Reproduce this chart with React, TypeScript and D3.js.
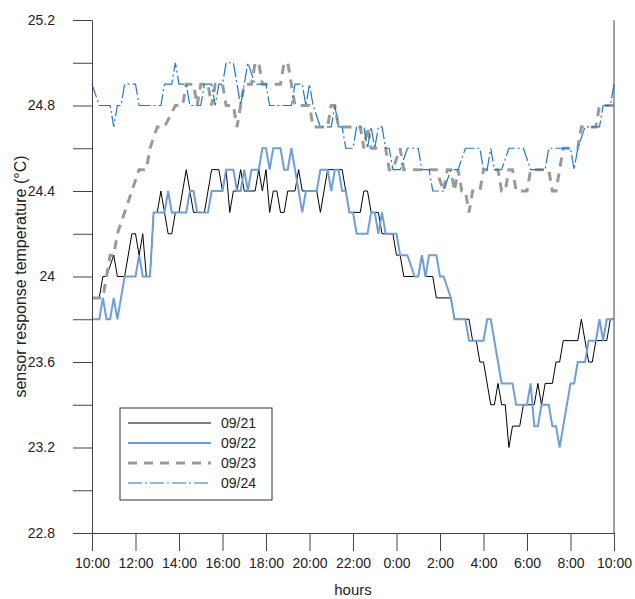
import React, { useRef, useEffect } from 'react';
import * as d3 from 'd3';

// [minutes after 10:00, temperature]
const sep21: [number, number][] = [
  [0, 23.9], [20, 23.9], [30, 24.0], [40, 24.0], [60, 24.1], [70, 24.0], [90, 24.0], [110, 24.2], [120, 24.2],
  [130, 24.1], [140, 24.2], [150, 24.0], [160, 24.0], [170, 24.3], [180, 24.3], [190, 24.4], [200, 24.3],
  [210, 24.2], [220, 24.2], [230, 24.3], [240, 24.3], [260, 24.5], [270, 24.4], [280, 24.3], [310, 24.3],
  [320, 24.4], [330, 24.5], [350, 24.5], [360, 24.4], [370, 24.5], [380, 24.3], [390, 24.4], [400, 24.4],
  [410, 24.5], [420, 24.4], [450, 24.4], [460, 24.5], [470, 24.4], [480, 24.5], [490, 24.3], [500, 24.4],
  [510, 24.4], [520, 24.3], [530, 24.3], [540, 24.4], [560, 24.4], [570, 24.5], [580, 24.4], [620, 24.4],
  [630, 24.3], [640, 24.4], [650, 24.5], [690, 24.5], [700, 24.4], [710, 24.3], [740, 24.3], [750, 24.4],
  [760, 24.4], [770, 24.3], [790, 24.3], [800, 24.2], [830, 24.2], [840, 24.1], [850, 24.1], [860, 24.0],
  [900, 24.0], [910, 24.1], [920, 24.0], [940, 24.0], [950, 23.9], [990, 23.9], [1000, 23.8], [1040, 23.8],
  [1050, 23.7], [1060, 23.7], [1070, 23.6], [1080, 23.6], [1100, 23.4], [1110, 23.4], [1120, 23.5],
  [1130, 23.4], [1140, 23.4], [1150, 23.2], [1160, 23.3], [1180, 23.3], [1190, 23.4], [1220, 23.4],
  [1230, 23.5], [1240, 23.4], [1250, 23.5], [1270, 23.5], [1280, 23.6], [1290, 23.6], [1300, 23.7],
  [1340, 23.7], [1350, 23.8], [1360, 23.7], [1370, 23.6], [1380, 23.6], [1390, 23.7], [1420, 23.7],
  [1430, 23.8], [1440, 23.8],
];

const sep22: [number, number][] = [
  [0, 23.8], [20, 23.8], [30, 23.9], [40, 23.8], [50, 23.8], [60, 23.9], [70, 23.8], [90, 24.0], [120, 24.0],
  [130, 24.1], [140, 24.0], [160, 24.0], [170, 24.3], [200, 24.3], [210, 24.4], [220, 24.3], [260, 24.3],
  [270, 24.4], [280, 24.4], [290, 24.3], [320, 24.3], [330, 24.4], [360, 24.4], [370, 24.5], [390, 24.5],
  [400, 24.4], [410, 24.4], [420, 24.5], [430, 24.4], [440, 24.5], [460, 24.5], [470, 24.6], [480, 24.6],
  [490, 24.5], [500, 24.6], [520, 24.6], [530, 24.5], [540, 24.5], [550, 24.6], [560, 24.5], [580, 24.3],
  [590, 24.4], [620, 24.4], [630, 24.5], [650, 24.5], [660, 24.4], [670, 24.5], [680, 24.5], [690, 24.4],
  [700, 24.4], [710, 24.3], [720, 24.3], [730, 24.2], [760, 24.2], [770, 24.3], [780, 24.3], [790, 24.2],
  [800, 24.3], [810, 24.2], [840, 24.2], [850, 24.1], [870, 24.1], [890, 24.0], [900, 24.0], [910, 24.1],
  [920, 24.0], [930, 24.1], [950, 24.1], [960, 24.0], [970, 24.0], [990, 23.9], [1000, 23.8], [1030, 23.8],
  [1040, 23.7], [1080, 23.7], [1090, 23.8], [1100, 23.8], [1120, 23.6], [1130, 23.5], [1160, 23.5],
  [1170, 23.4], [1200, 23.4], [1210, 23.5], [1220, 23.3], [1230, 23.3], [1240, 23.4], [1260, 23.4],
  [1270, 23.3], [1280, 23.3], [1290, 23.2], [1320, 23.5], [1330, 23.5], [1340, 23.6], [1360, 23.6],
  [1370, 23.7], [1390, 23.7], [1400, 23.8], [1410, 23.7], [1420, 23.8], [1440, 23.8],
];

const sep23: [number, number][] = [
  [0, 23.9], [30, 23.9], [40, 24.0], [50, 24.1], [60, 24.1], [70, 24.2], [90, 24.3], [110, 24.4], [130, 24.5],
  [150, 24.5], [160, 24.6], [180, 24.7], [200, 24.7], [230, 24.8], [250, 24.8], [260, 24.9], [280, 24.9],
  [290, 24.8], [300, 24.9], [320, 24.9], [330, 24.8], [340, 24.9], [360, 24.9], [370, 24.8], [390, 24.8],
  [400, 24.7], [410, 24.8], [420, 24.9], [440, 24.9], [450, 25.0], [460, 25.0], [470, 24.9], [520, 24.9],
  [530, 25.0], [540, 25.0], [550, 24.9], [560, 24.8], [600, 24.8], [610, 24.7], [650, 24.7], [660, 24.8],
  [670, 24.8], [680, 24.7], [740, 24.7], [750, 24.6], [760, 24.7], [770, 24.6], [810, 24.6], [820, 24.5],
  [830, 24.5], [850, 24.6], [860, 24.5], [950, 24.5], [970, 24.4], [980, 24.5], [990, 24.5], [1000, 24.4],
  [1010, 24.5], [1020, 24.4], [1030, 24.4], [1040, 24.3], [1050, 24.4], [1070, 24.4], [1080, 24.5],
  [1120, 24.5], [1130, 24.4], [1140, 24.4], [1150, 24.5], [1160, 24.5], [1170, 24.4], [1200, 24.4],
  [1210, 24.5], [1260, 24.5], [1270, 24.4], [1280, 24.4], [1290, 24.5], [1300, 24.6], [1340, 24.6],
  [1350, 24.7], [1390, 24.7], [1400, 24.8], [1440, 24.8],
];

const sep24: [number, number][] = [
  [0, 24.9], [20, 24.8], [50, 24.8], [60, 24.7], [70, 24.8], [80, 24.8], [90, 24.9], [120, 24.9], [130, 24.8],
  [190, 24.8], [200, 24.9], [220, 24.9], [230, 25.0], [240, 24.9], [260, 24.9], [270, 24.8], [300, 24.8],
  [310, 24.9], [330, 24.9], [340, 24.8], [350, 24.9], [360, 24.9], [370, 25.0], [390, 25.0], [410, 24.8],
  [430, 25.0], [450, 24.9], [480, 24.9], [490, 24.8], [550, 24.8], [560, 24.9], [580, 24.9], [590, 24.8],
  [600, 24.9], [610, 24.8], [630, 24.7], [660, 24.7], [670, 24.8], [680, 24.7], [690, 24.7], [700, 24.6],
  [720, 24.6], [730, 24.7], [750, 24.7], [760, 24.6], [770, 24.7], [780, 24.6], [790, 24.7], [800, 24.7],
  [810, 24.6], [820, 24.6], [830, 24.5], [850, 24.5], [870, 24.6], [900, 24.6], [910, 24.5], [930, 24.5],
  [940, 24.4], [970, 24.4], [990, 24.5], [1010, 24.5], [1030, 24.6], [1070, 24.6], [1080, 24.5],
  [1090, 24.5], [1100, 24.6], [1110, 24.5], [1130, 24.5], [1150, 24.6], [1190, 24.6], [1210, 24.5],
  [1250, 24.5], [1260, 24.6], [1320, 24.6], [1330, 24.5], [1340, 24.6], [1360, 24.7], [1400, 24.7],
  [1410, 24.8], [1430, 24.8], [1440, 24.9],
];

const seriesNames = ['09/21', '09/22', '09/23', '09/24'];
const xTicks = d3.range(0, 1441, 120);
const yTicks = d3.range(0, 13).map(i => +(22.8 + i * 0.2).toFixed(1));
const yLabelTicks = [22.8, 23.2, 23.6, 24, 24.4, 24.8, 25.2];

function TempChart() {
  const ref = useRef<SVGSVGElement>(null);

  useEffect(() => {
    const svg = d3.select(ref.current);
    svg.selectAll('*').remove();

    const width = 635;
    const height = 599;
    const margin = { top: 20, right: 21, bottom: 66, left: 92 };
    const font = 'Liberation Sans, Arial, sans-serif';
    const axisColor = '#444';

    const x = d3.scaleLinear().domain([0, 1440]).range([margin.left, width - margin.right]);
    const y = d3.scaleLinear().domain([22.8, 25.2]).range([height - margin.bottom, margin.top]);

    const styles = [
      { data: sep21, color: '#000000', width: 1, dash: null },
      { data: sep22, color: '#6f9fd9', width: 2, dash: null },
      { data: sep23, color: '#9a9a9a', width: 3, dash: '9,7' },
      { data: sep24, color: '#1f78c1', width: 1.2, dash: '14,3,2,3' },
    ];

    const line = d3.line<[number, number]>()
      .x(d => x(d[0]))
      .y(d => y(d[1]));

    // series
    styles.forEach(s => {
      svg.append('path')
        .datum(s.data)
        .attr('fill', 'none')
        .attr('stroke', s.color)
        .attr('stroke-width', s.width)
        .attr('stroke-dasharray', s.dash)
        .attr('d', line);
    });

    // left axis
    const yAxis = d3.axisLeft(y)
      .tickValues(yTicks)
      .tickSize(19)
      .tickSizeOuter(0)
      .tickFormat(d => (yLabelTicks.some(v => Math.abs(v - +d) < 1e-6) ? d3.format('')(+d) : ''));
    const gy = svg.append('g')
      .attr('transform', `translate(${margin.left},0)`)
      .call(yAxis);
    gy.selectAll('line, path').attr('stroke', axisColor);
    gy.selectAll('text')
      .attr('x', -37)
      .attr('fill', '#222')
      .style('font-family', font)
      .style('font-size', '14px');

    // bottom axis
    const xAxis = d3.axisBottom(x)
      .tickValues(xTicks)
      .tickSize(18)
      .tickSizeOuter(0)
      .tickFormat(d => `${(10 + (+d) / 60) % 24}:00`);
    const gx = svg.append('g')
      .attr('transform', `translate(0,${height - margin.bottom})`)
      .call(xAxis);
    gx.selectAll('line, path').attr('stroke', axisColor);
    gx.selectAll('text')
      .attr('y', 25)
      .attr('fill', '#222')
      .style('font-family', font)
      .style('font-size', '14px');

    // right border
    svg.append('line')
      .attr('x1', x(1440)).attr('x2', x(1440))
      .attr('y1', y(25.2)).attr('y2', y(22.8))
      .attr('stroke', axisColor);

    // axis titles
    svg.append('text')
      .attr('x', (x(0) + x(1440)) / 2)
      .attr('y', 595)
      .attr('text-anchor', 'middle')
      .attr('fill', '#222')
      .style('font-family', font)
      .style('font-size', '15px')
      .text('hours');

    svg.append('text')
      .attr('transform', `translate(26,${(y(22.8) + y(25.2)) / 2}) rotate(-90)`)
      .attr('text-anchor', 'middle')
      .attr('fill', '#222')
      .style('font-family', font)
      .style('font-size', '16px')
      .text('sensor response temperature (°C)');

    // legend
    const lg = svg.append('g').attr('transform', 'translate(120,408)');
    lg.append('rect')
      .attr('width', 152)
      .attr('height', 92)
      .attr('fill', '#fff')
      .attr('stroke', '#333');
    styles.forEach((s, i) => {
      const ly = 15 + i * 20;
      lg.append('line')
        .attr('x1', 8).attr('x2', 91)
        .attr('y1', ly).attr('y2', ly)
        .attr('stroke', s.color)
        .attr('stroke-width', s.width)
        .attr('stroke-dasharray', s.dash);
      lg.append('text')
        .attr('x', 101)
        .attr('y', ly + 5)
        .attr('fill', '#222')
        .style('font-family', font)
        .style('font-size', '14px')
        .text(seriesNames[i]);
    });
  }, []);

  return <svg ref={ref} width={635} height={599} style={{ position: 'absolute', left: 0, top: 0 }}></svg>;
}

export default function App() {
  return <TempChart />;
}
